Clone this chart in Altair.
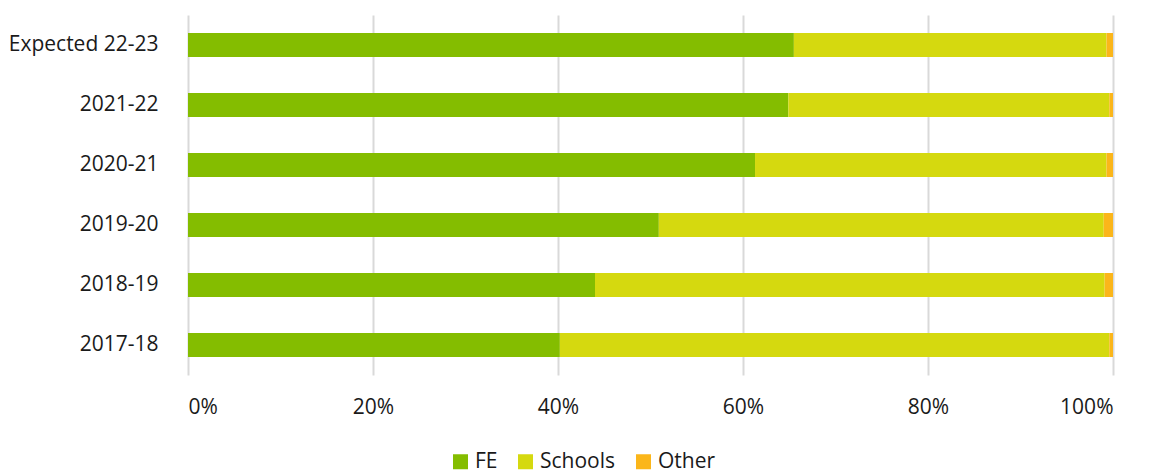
import altair as alt
import pandas as pd

years = ["Expected 22-23", "2021-22", "2020-21", "2019-20", "2018-19", "2017-18"]
fe = [65.5, 64.9, 61.3, 50.9, 44.0, 40.2]
schools = [33.8, 34.7, 38.0, 48.1, 55.1, 59.4]
other = [0.7, 0.4, 0.7, 1.0, 0.9, 0.4]
series = ["FE", "Schools", "Other"]
colors = ["#84bd00", "#d5d90f", "#fbb61a"]

rows = []
for i, y in enumerate(years):
    for s, vals in zip(series, [fe, schools, other]):
        rows.append({"year": y, "series": s, "value": vals[i], "order": series.index(s)})
df = pd.DataFrame(rows)

FONT = "Open Sans"

chart = alt.Chart(df).mark_bar().encode(
    y=alt.Y("year:N", sort=years, title=None,
            scale=alt.Scale(paddingInner=0.6, paddingOuter=0.3),
            axis=alt.Axis(domain=False, ticks=False, labelPadding=30, labelFontSize=21,
                          labelFont=FONT, labelColor="#1a1a1a", grid=False)),
    x=alt.X("value:Q", stack="normalize", title=None,
            scale=alt.Scale(domain=[0, 1], nice=False),
            axis=alt.Axis(format="%", values=[0, 0.2, 0.4, 0.6, 0.8, 1.0], domain=False,
                          ticks=False, labelPadding=21, labelFontSize=21, labelFont=FONT,
                          labelColor="#1a1a1a", gridColor="#d9d9d9", gridWidth=2)),
    color=alt.Color("series:N", sort=series,
                    scale=alt.Scale(domain=series, range=colors),
                    legend=alt.Legend(title=None, orient="none", direction="horizontal",
                                      legendX=262, legendY=436, symbolType="square",
                                      symbolSize=225, symbolStrokeWidth=0, labelFontSize=21,
                                      labelFont=FONT, labelColor="#1a1a1a",
                                      columnPadding=17, labelOffset=4)),
    order=alt.Order("order:Q"),
).properties(
    width=925, height=360, padding={"left": 0, "top": 7, "right": 10, "bottom": 4}
).configure_view(stroke=None)

chart.save("out.html", embed_options={"renderer": "svg", "actions": False})
